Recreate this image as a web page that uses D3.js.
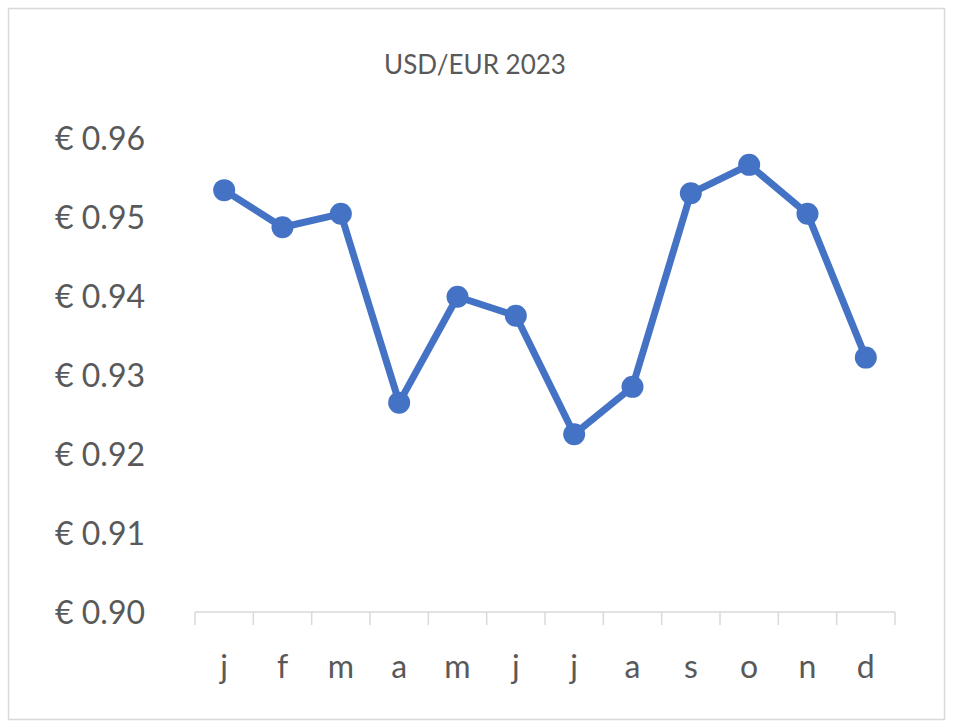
<!DOCTYPE html>
<html>
<head>
<meta charset="utf-8">
<script src="https://cdn.jsdelivr.net/npm/d3@7"></script>
<style>
  body { margin: 0; background: #fff; }
  text { font-family: "Lato", "Open Sans", sans-serif; fill: #595959; }
</style>
</head>
<body>
<svg id="chart" width="953" height="728"></svg>
<script>
var months = ["j", "f", "m", "a", "m", "j", "j", "a", "s", "o", "n", "d"];
var rates = [0.9534, 0.9487, 0.9504, 0.9265, 0.9399, 0.9375, 0.9225, 0.9285, 0.9530, 0.9566, 0.9504, 0.9322];
var yTicks = [0.90, 0.91, 0.92, 0.93, 0.94, 0.95, 0.96];

var svg = d3.select("#chart");

svg.append("rect")
    .attr("x", 8.5).attr("y", 8.5)
    .attr("width", 936).attr("height", 711)
    .attr("fill", "#fff")
    .attr("stroke", "#d9d9d9")
    .attr("stroke-width", 1.5);

svg.append("text")
    .attr("x", 475).attr("y", 74)
    .attr("text-anchor", "middle")
    .style("font-size", "26px")
    .text("USD/EUR 2023");

var x = d3.scaleBand()
    .domain(d3.range(months.length))
    .range([195, 895]);

var y = d3.scaleLinear()
    .domain([0.90, 0.96])
    .range([612, 138]);

// y labels
svg.selectAll(".ylab")
    .data(yTicks)
    .enter().append("text")
    .attr("class", "ylab")
    .attr("x", 145)
    .attr("y", function (d) { return y(d); })
    .attr("dy", "0.36em")
    .attr("text-anchor", "end")
    .style("font-size", "32px")
    .text(function (d) { return "€ " + d.toFixed(2); });

// x axis line and ticks
svg.append("line")
    .attr("x1", 195).attr("x2", 895)
    .attr("y1", 612).attr("y2", 612)
    .attr("stroke", "#d9d9d9").attr("stroke-width", 1.5);

svg.selectAll(".xtick")
    .data(d3.range(months.length + 1))
    .enter().append("line")
    .attr("x1", function (i) { return 195 + i * x.step(); })
    .attr("x2", function (i) { return 195 + i * x.step(); })
    .attr("y1", 612).attr("y2", 625)
    .attr("stroke", "#d9d9d9").attr("stroke-width", 1.5);

svg.selectAll(".xlab")
    .data(months)
    .enter().append("text")
    .attr("class", "xlab")
    .attr("x", function (d, i) { return x(i) + x.bandwidth() / 2; })
    .attr("y", 678)
    .attr("text-anchor", "middle")
    .style("font-size", "32px")
    .text(function (d) { return d; });

var line = d3.line()
    .x(function (d, i) { return x(i) + x.bandwidth() / 2; })
    .y(function (d) { return y(d); });

svg.append("path")
    .datum(rates)
    .attr("d", line)
    .attr("fill", "none")
    .attr("stroke", "#4472C4")
    .attr("stroke-width", 7)
    .attr("stroke-linejoin", "round");

svg.selectAll(".pt")
    .data(rates)
    .enter().append("circle")
    .attr("class", "pt")
    .attr("cx", function (d, i) { return x(i) + x.bandwidth() / 2; })
    .attr("cy", function (d) { return y(d); })
    .attr("r", 11)
    .attr("fill", "#4472C4");
</script>
</body>
</html>
